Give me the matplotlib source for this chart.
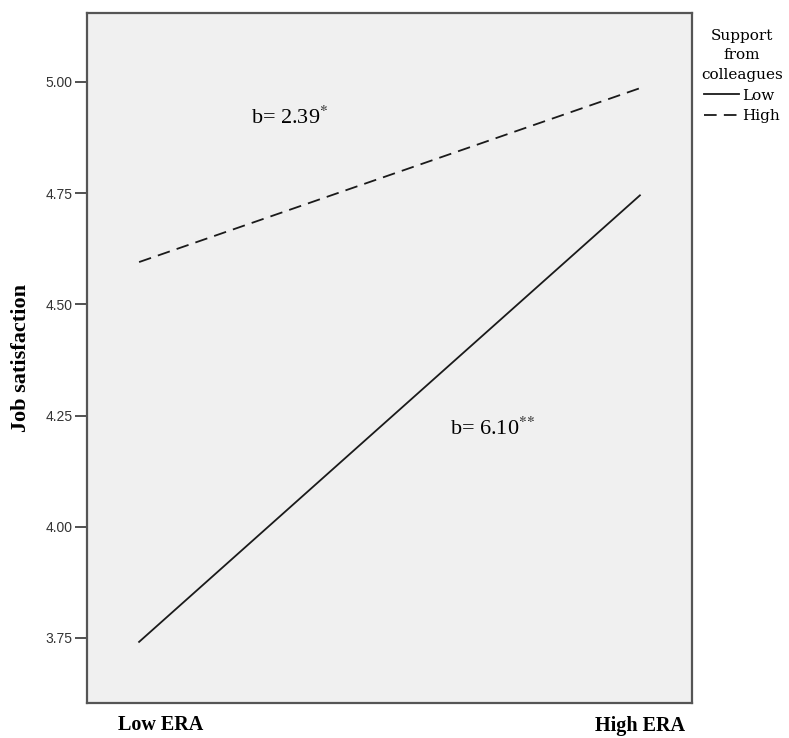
import numpy as np
import matplotlib.pyplot as plt
from matplotlib.transforms import ScaledTranslation

plt.rcParams['mathtext.fontset'] = 'stix'

era_levels = ['Low ERA', 'High ERA']
support_groups = ['Low', 'High']
job_sat_low_support = [3.741, 4.745]
job_sat_high_support = [4.595, 4.986]
slopes = ['b= 6.10$^{*\\!*}$', 'b= 2.39$^{*}$']
yticks = [3.75, 4.00, 4.25, 4.50, 4.75, 5.00]

serif = 'Liberation Serif'

fig = plt.figure(figsize=(7.89, 7.38), dpi=100)
ax = fig.add_axes([87/789, 1 - 703/738, 605/789, 690/738])
ax.set_facecolor('#f0f0f0')

x = np.arange(len(era_levels))
ax.plot(x, job_sat_low_support, color='#1a1a1a', lw=1.3, label=support_groups[0])
ax.plot(x, job_sat_high_support, color='#1a1a1a', lw=1.3, dashes=(7, 4), label=support_groups[1])

ax.set_xlim(-0.104, 1.104)
ax.set_ylim(3.6036, 5.155)
ax.set_yticks(yticks)
ax.set_yticklabels([f'{v:.2f}' for v in yticks], fontfamily='Liberation Sans', fontsize=10, color='#333333')
ax.tick_params(axis='y', direction='out', length=9, width=1.2, color='#333333', pad=1.5)
ax.set_xticks(x)
ax.set_xticklabels(era_levels, fontfamily=serif, fontweight='bold', fontsize=14.5)
ax.tick_params(axis='x', length=0, pad=9)
# the left category label sits a little right of its tick in the original
lbl = ax.get_xticklabels()[0]
lbl.set_transform(lbl.get_transform() + ScaledTranslation(0.22, 0, fig.dpi_scale_trans))
for s in ax.spines.values():
    s.set_color('#555555')
    s.set_linewidth(1.6)

ax.set_ylabel('Job satisfaction', fontfamily=serif, fontweight='bold', fontsize=16, labelpad=10)

ax.text(0.30, 4.919, slopes[1], fontfamily=serif, fontsize=16, ha='center', va='center')
ax.text(0.707, 4.221, slopes[0], fontfamily=serif, fontsize=16, ha='center', va='center')

leg = fig.legend(title='Support\nfrom\ncolleagues', loc='upper center', bbox_to_anchor=(742/789, 1 - 21/738),
                 frameon=False, handlelength=2.3, handletextpad=0.2, labelspacing=0.45,
                 borderpad=0, prop={'family': 'DejaVu Serif', 'size': 11})
title = leg.get_title()
title.set_fontfamily('DejaVu Serif')
title.set_fontsize(11)
title.set_multialignment('center')
title.set_linespacing(1.5)

fig.savefig('out.png', dpi=100)
